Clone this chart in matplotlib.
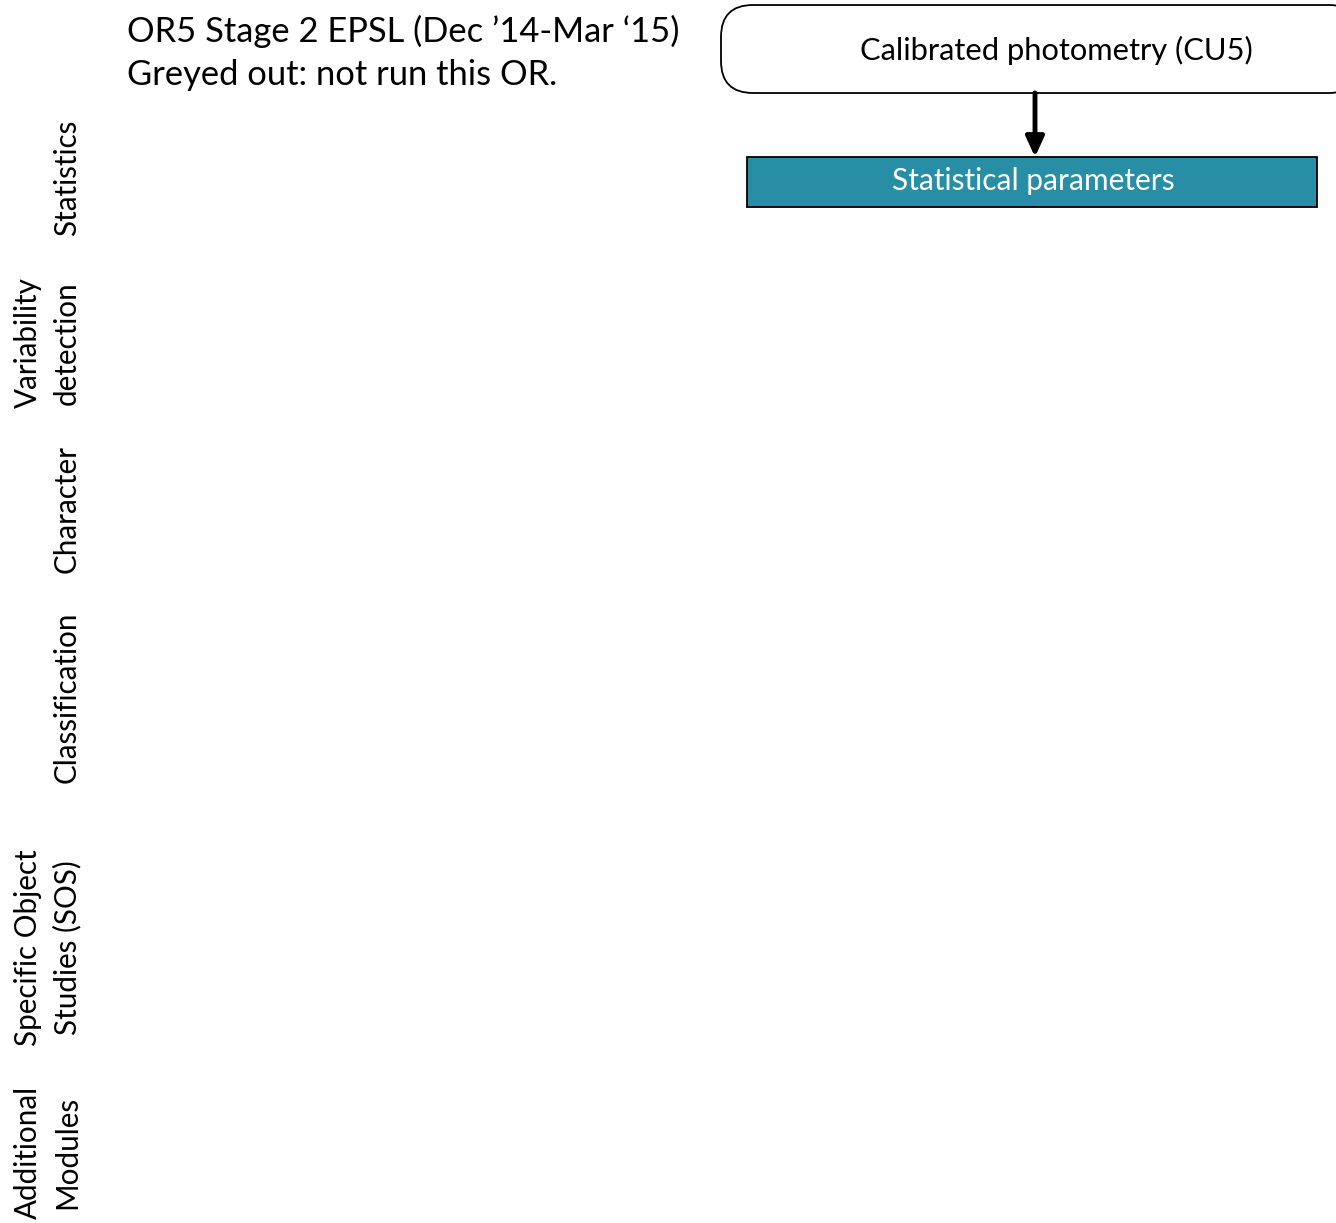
import matplotlib
matplotlib.use("Agg")
import matplotlib.pyplot as plt
from matplotlib.patches import FancyBboxPatch, Rectangle

# ---- content ----
title_lines = ["OR5 Stage 2 EPSL (Dec \u201914-Mar \u201815)", "Greyed out: not run this OR."]
source_label = "Calibrated photometry (CU5)"
module_label = "Statistical parameters"
row_labels = [["Statistics"],
              ["Variability", "detection"],
              ["Character"],
              ["Classification"],
              ["Specific Object", "Studies (SOS)"],
              ["Additional", "Modules"]]
row_centers = [178, 343, 509, 697, 948, 1152]

W, H = 1336, 1223
fig = plt.figure(figsize=(W / 100, H / 100), dpi=100)
ax = fig.add_axes([0, 0, 1, 1])
ax.set_xlim(0, W)
ax.set_ylim(H, 0)
ax.axis("off")

FONT = ["Lato", "DejaVu Sans"]

# title
ax.text(127, 31, title_lines[0], fontsize=24.8, family=FONT, va="center", ha="left")
ax.text(127, 75, title_lines[1], fontsize=24.8, family=FONT, va="center", ha="left")

# rounded source box
src = FancyBboxPatch((721, 5), 640, 88, boxstyle="round,pad=0,rounding_size=32",
                     facecolor="white", edgecolor="black", linewidth=1.3)
ax.add_patch(src)
ax.text(1056, 50, source_label, fontsize=22.2, family=FONT, va="center", ha="center")

# arrow
ax.annotate("", xy=(1035, 157), xytext=(1035, 93),
            arrowprops=dict(arrowstyle="-|>,head_length=1.2,head_width=0.55",
                            color="black", lw=3.5, shrinkA=0, shrinkB=0))

# module box
mod = Rectangle((747, 157), 570, 50, facecolor="#288EA6", edgecolor="black", linewidth=1.3)
ax.add_patch(mod)
ax.text(1033, 181, module_label, fontsize=21.5, family=FONT, color="white",
        va="center", ha="center")

# left row labels
for lines, yc in zip(row_labels, row_centers):
    if len(lines) == 1:
        xs = [67]
    else:
        xs = [28, 67]
    for line, x in zip(lines, xs):
        ax.text(x, yc, line, fontsize=21.3, family=FONT, rotation=90,
                va="center", ha="center")

fig.savefig("out.png", dpi=100)
